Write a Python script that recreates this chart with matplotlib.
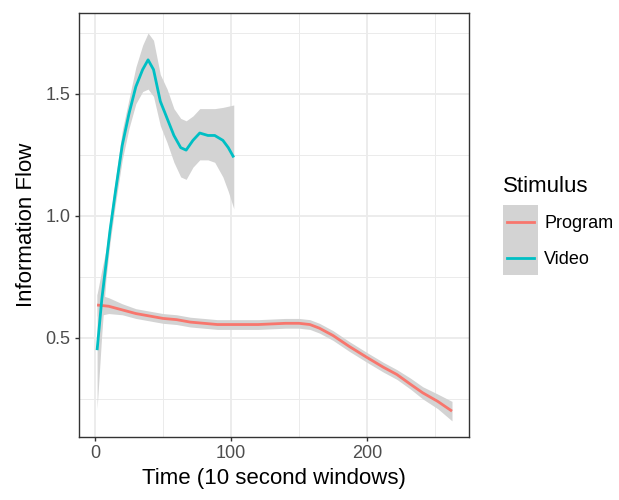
import matplotlib
matplotlib.use("Agg")
import matplotlib.pyplot as plt
from matplotlib.patches import Rectangle
from matplotlib.lines import Line2D

plt.rcParams['font.family'] = ['Liberation Sans', 'DejaVu Sans']

## Datos (curvas suavizadas con su banda de confianza)
video_x = [1.5, 5, 8, 11, 15, 20, 25, 30, 35, 39, 43, 48, 53, 58, 63, 67, 72, 77, 83, 88, 94, 98, 102]
video_y = [0.45, 0.66, 0.80, 0.94, 1.10, 1.29, 1.42, 1.53, 1.60, 1.64, 1.60, 1.47, 1.40, 1.33, 1.28, 1.27, 1.31, 1.34, 1.33, 1.33, 1.31, 1.28, 1.24]
video_lo = [0.21, 0.52, 0.74, 0.89, 1.05, 1.23, 1.36, 1.46, 1.51, 1.52, 1.49, 1.37, 1.30, 1.22, 1.16, 1.15, 1.20, 1.23, 1.23, 1.22, 1.16, 1.10, 1.03]
video_hi = [0.68, 0.78, 0.86, 0.99, 1.15, 1.35, 1.48, 1.61, 1.70, 1.75, 1.72, 1.58, 1.52, 1.44, 1.40, 1.39, 1.41, 1.44, 1.44, 1.44, 1.445, 1.45, 1.455]

prog_x = [1.5, 10, 20, 30, 40, 50, 60, 70, 80, 90, 100, 120, 140, 150, 158, 165, 175, 187, 200, 212, 222, 232, 241, 252, 262.5]
prog_y = [0.635, 0.63, 0.615, 0.60, 0.59, 0.58, 0.575, 0.565, 0.56, 0.555, 0.555, 0.555, 0.56, 0.56, 0.555, 0.54, 0.51, 0.465, 0.42, 0.38, 0.35, 0.31, 0.275, 0.24, 0.20]
prog_lo = [0.59, 0.60, 0.595, 0.58, 0.57, 0.56, 0.555, 0.545, 0.54, 0.535, 0.535, 0.535, 0.54, 0.54, 0.535, 0.52, 0.49, 0.445, 0.40, 0.36, 0.33, 0.29, 0.25, 0.21, 0.16]
prog_hi = [0.68, 0.665, 0.64, 0.62, 0.61, 0.60, 0.595, 0.585, 0.58, 0.575, 0.575, 0.575, 0.58, 0.58, 0.575, 0.56, 0.53, 0.485, 0.44, 0.40, 0.37, 0.335, 0.30, 0.27, 0.24]

x_ticks = [0, 100, 200]
y_ticks = [0.5, 1.0, 1.5]

col_prog = '#F8766D'
col_video = '#00BFC4'
col_band = '#D3D3D3'

W, H = 619, 500
fig = plt.figure(figsize=(W / 100, H / 100), dpi=100)
ax = fig.add_axes([79 / W, 1 - 437 / H, (469 - 79) / W, (437 - 13) / H])

ax.fill_between(prog_x, prog_lo, prog_hi, color=col_band, lw=0, zorder=2)
ax.fill_between(video_x, video_lo, video_hi, color=col_band, lw=0, zorder=2)
ax.plot(prog_x, prog_y, color=col_prog, lw=2.0, zorder=3, solid_capstyle='butt')
ax.plot(video_x, video_y, color=col_video, lw=2.0, zorder=3, solid_capstyle='butt')

ax.set_xlim(-11.8, 275)
ax.set_ylim(0.094, 1.832)
ax.set_xticks(x_ticks)
ax.set_yticks(y_ticks)
ax.set_xticklabels([str(v) for v in x_ticks])
ax.set_yticklabels(['0.5', '1.0', '1.5'])
ax.set_xticks([50, 150, 250], minor=True)
ax.set_yticks([0.25, 0.75, 1.25, 1.75], minor=True)
ax.grid(which='major', color='#EBEBEB', lw=1.3, zorder=0)
ax.grid(which='minor', color='#EBEBEB', lw=0.7, zorder=0)
ax.set_axisbelow(True)
ax.tick_params(which='major', length=3, width=1, color='#333333',
               labelsize=13, labelcolor='#4D4D4D', pad=3)
ax.tick_params(which='minor', length=0)
for s in ax.spines.values():
    s.set_color('#333333')
    s.set_linewidth(1.0)

ax.set_xlabel('Time (10 second windows)', fontsize=16, labelpad=4)
ax.set_ylabel('Information Flow', fontsize=16, labelpad=6)

## Leyenda dibujada a mano
fig.text(503 / W, 1 - 187 / H, 'Stimulus', fontsize=16, va='center', ha='left')
fig.patches.append(Rectangle((503 / W, 1 - 275 / H), 35 / W, 70 / H,
                             transform=fig.transFigure, color=col_band, lw=0))
fig.lines.append(Line2D([507 / W, 534 / W], [1 - 222 / H] * 2, transform=fig.transFigure,
                        color=col_prog, lw=2.0))
fig.lines.append(Line2D([507 / W, 534 / W], [1 - 258 / H] * 2, transform=fig.transFigure,
                        color=col_video, lw=2.0))
fig.text(544 / W, 1 - 223 / H, 'Program', fontsize=13, va='center', ha='left')
fig.text(544 / W, 1 - 259 / H, 'Video', fontsize=13, va='center', ha='left')

fig.savefig('out.png', dpi=100)
